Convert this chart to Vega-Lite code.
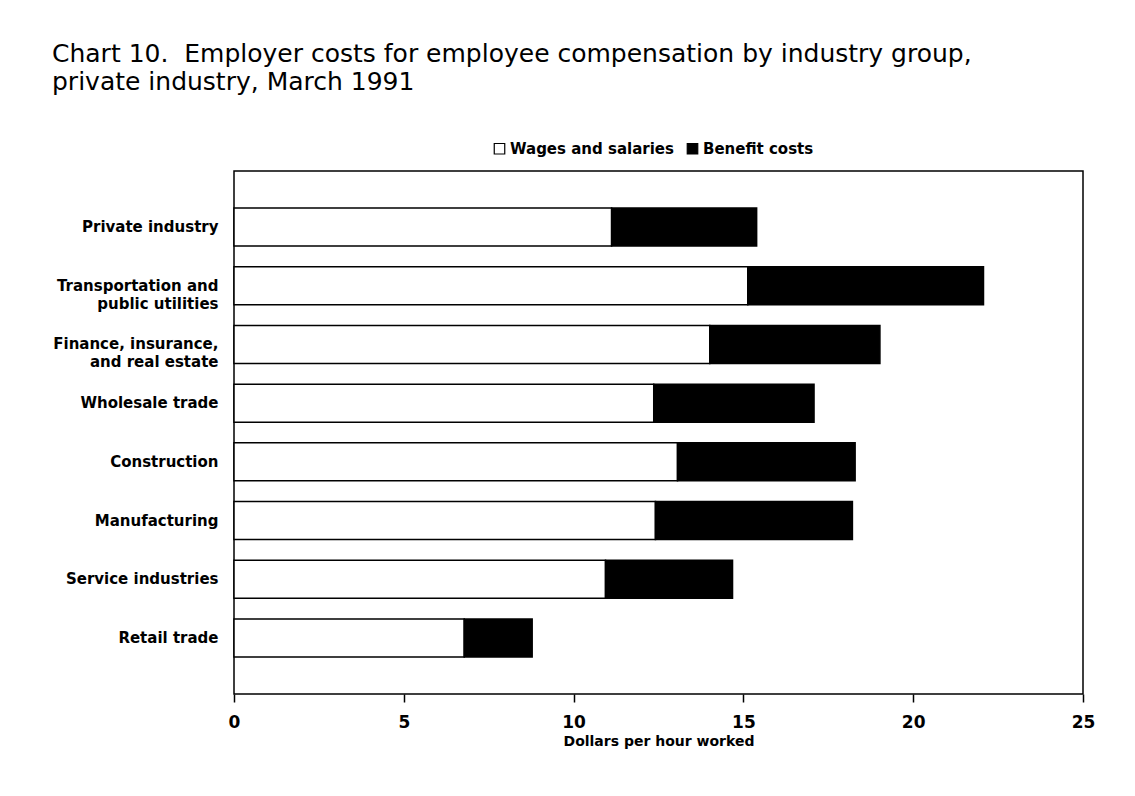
{
  "$schema": "https://vega.github.io/schema/vega-lite/v6.json",
  "width": 849,
  "height": 523,
  "autosize": {"type": "none"},
  "padding": {"left": 234, "top": 171, "right": 52, "bottom": 102},
  "background": "white",
  "title": {
    "text": ["Chart 10.\u00a0 Employer costs for employee compensation by industry group,", "private industry, March 1991"],
    "anchor": "start",
    "frame": "group",
    "dx": -182,
    "offset": 46,
    "font": "DejaVu Sans",
    "fontSize": 25,
    "fontWeight": "normal",
    "color": "black",
    "lineHeight": 28
  },
  "data": {
    "values": [
      {"industry": "Private industry", "component": "Wages and salaries", "seq": 1, "dollars": 11.12},
      {"industry": "Private industry", "component": "Benefit costs", "seq": 2, "dollars": 4.27},
      {"industry": "Transportation and|public utilities", "component": "Wages and salaries", "seq": 1, "dollars": 15.13},
      {"industry": "Transportation and|public utilities", "component": "Benefit costs", "seq": 2, "dollars": 6.94},
      {"industry": "Finance, insurance,|and real estate", "component": "Wages and salaries", "seq": 1, "dollars": 14.01},
      {"industry": "Finance, insurance,|and real estate", "component": "Benefit costs", "seq": 2, "dollars": 5.01},
      {"industry": "Wholesale trade", "component": "Wages and salaries", "seq": 1, "dollars": 12.36},
      {"industry": "Wholesale trade", "component": "Benefit costs", "seq": 2, "dollars": 4.72},
      {"industry": "Construction", "component": "Wages and salaries", "seq": 1, "dollars": 13.06},
      {"industry": "Construction", "component": "Benefit costs", "seq": 2, "dollars": 5.23},
      {"industry": "Manufacturing", "component": "Wages and salaries", "seq": 1, "dollars": 12.41},
      {"industry": "Manufacturing", "component": "Benefit costs", "seq": 2, "dollars": 5.80},
      {"industry": "Service industries", "component": "Wages and salaries", "seq": 1, "dollars": 10.94},
      {"industry": "Service industries", "component": "Benefit costs", "seq": 2, "dollars": 3.74},
      {"industry": "Retail trade", "component": "Wages and salaries", "seq": 1, "dollars": 6.78},
      {"industry": "Retail trade", "component": "Benefit costs", "seq": 2, "dollars": 2.00}
    ]
  },
  "mark": {"type": "bar", "stroke": "black", "strokeWidth": 1.5},
  "encoding": {
    "y": {
      "field": "industry",
      "type": "nominal",
      "sort": null,
      "scale": {"paddingInner": 0.353, "paddingOuter": 0.63},
      "axis": {
        "title": null,
        "domain": false,
        "ticks": false,
        "labelPadding": 16,
        "labelFont": "DejaVu Sans",
        "labelFontSize": 15,
        "labelFontWeight": "bold",
        "labelColor": "black",
        "labelLineHeight": 18,
        "labelExpr": "split(datum.label, '|')",
        "labelLimit": 300
      }
    },
    "x": {
      "field": "dollars",
      "type": "quantitative",
      "stack": "zero",
      "scale": {"domain": [0, 25], "nice": false},
      "axis": {
        "title": "Dollars per hour worked",
        "values": [0, 5, 10, 15, 20, 25],
        "grid": false,
        "domain": false,
        "tickSize": 8,
        "tickColor": "black",
        "tickWidth": 1.5,
        "labelFlush": false,
        "labelPadding": 12,
        "labelFont": "DejaVu Sans",
        "labelFontSize": 17,
        "labelFontWeight": "bold",
        "labelColor": "black",
        "titleFont": "DejaVu Sans",
        "titleFontSize": 14,
        "titleFontWeight": "bold",
        "titleColor": "black",
        "titlePadding": 4
      }
    },
    "color": {
      "field": "component",
      "type": "nominal",
      "sort": ["Wages and salaries", "Benefit costs"],
      "scale": {"domain": ["Wages and salaries", "Benefit costs"], "range": ["white", "black"]},
      "legend": {
        "title": null,
        "orient": "none",
        "direction": "horizontal",
        "legendX": 258,
        "legendY": -30,
        "symbolType": "square",
        "symbolSize": 110,
        "symbolStrokeColor": "black",
        "symbolStrokeWidth": 1.2,
        "symbolOffset": 0,
        "labelOffset": 3,
        "labelLimit": 400,
        "columnPadding": 10,
        "labelFont": "DejaVu Sans",
        "labelFontSize": 15,
        "labelFontWeight": "bold",
        "labelColor": "black"
      }
    },
    "order": {"field": "seq", "type": "quantitative"}
  },
  "config": {
    "view": {"stroke": "black", "strokeWidth": 1.5}
  }
}
